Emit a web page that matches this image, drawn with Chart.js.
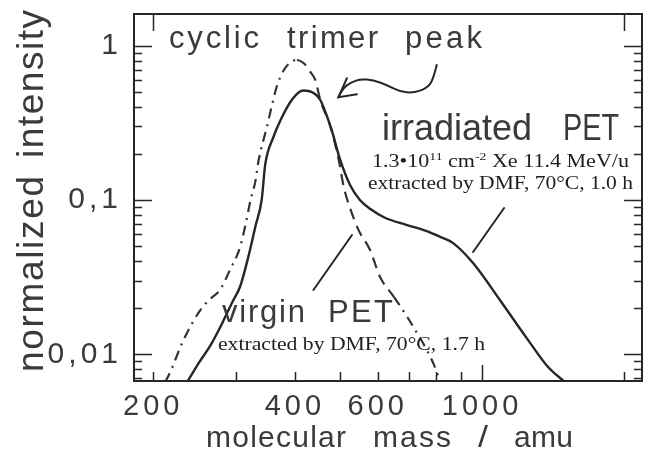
<!DOCTYPE html>
<html>
<head>
<meta charset="utf-8">
<script src="https://cdn.jsdelivr.net/npm/chart.js@4.4.1/dist/chart.umd.min.js"></script>
<style>
  html,body{margin:0;padding:0;background:#fff}
</style>
</head>
<body>
<canvas id="c" width="645" height="452"></canvas>
<script>
// irradiated PET (solid)
const irrMass = [236, 250, 265, 280, 295, 306, 318, 330, 340, 346, 360, 373, 395, 417, 440, 453, 479, 499, 524, 550, 580, 620, 690, 760, 815, 868, 957, 1092, 1252, 1380, 1500];
const irrInt  = [0.0066, 0.0088, 0.0115, 0.0158, 0.022, 0.0275, 0.042, 0.068, 0.1, 0.17, 0.255, 0.33, 0.45, 0.512, 0.49, 0.445, 0.284, 0.183, 0.125, 0.1, 0.087, 0.077, 0.069, 0.063, 0.0576, 0.0525, 0.039, 0.0224, 0.0124, 0.0083, 0.0066];
// virgin PET (dashed)
const virMass = [212, 217, 232, 252, 265, 277, 291, 306, 315, 322, 329.5, 335, 349, 357, 366, 379, 392, 404, 418, 431, 442, 453, 476, 496, 508, 524, 546, 578, 607, 650, 693, 714, 787, 815];
const virInt  = [0.0066, 0.0076, 0.0124, 0.0194, 0.023, 0.026, 0.0351, 0.0496, 0.072, 0.1, 0.131, 0.181, 0.299, 0.402, 0.542, 0.696, 0.78, 0.808, 0.77, 0.679, 0.6, 0.445, 0.299, 0.181, 0.122, 0.0887, 0.064, 0.0474, 0.0317, 0.0235, 0.0175, 0.0151, 0.0088, 0.0066];
const virPeak = 404;

const xTickVals = [200, 300, 400, 500, 600, 700, 800, 900, 1000, 2000];
const xTickLabels = {200: '200', 400: '400', 600: '600', 1000: '1000'};
const yTickVals = [0.007, 0.008, 0.009, 0.01, 0.02, 0.03, 0.04, 0.05, 0.06, 0.07, 0.08, 0.09,
                   0.1, 0.2, 0.3, 0.4, 0.5, 0.6, 0.7, 0.8, 0.9, 1];
const yTickLabels = {'1': '1', '0.1': '0,1', '0.01': '0,01'};
const yMajor = [0.01, 0.1, 1];
const topTicks = [200, 2000];

// annotation geometry, in data units (mass, intensity)
const arrowPath = [[801,0.75],[787,0.599],[763,0.53],[714,0.494],[670,0.503],[627,0.556],[587,0.599],[551,0.608],[525,0.576],[507,0.532],[495,0.463]];
const arrowHead = [[516,0.615],[495,0.463],[542,0.484]];
const leaderIrr = [[1114,0.0887],[957,0.046]];
const leaderVir = [[529,0.0593],[438,0.0261]];

const INK = '#262626';
const TXT = '#3a3a3a';
const SANS = '"Liberation Sans", Arial, sans-serif';
const SERIF = '"Liberation Serif", "Times New Roman", serif';

// sans word fitted to span [x, x+w]: letter spacing if wider, squeeze if narrower
function spaced(ctx, txt, x, y, w, size){
  ctx.font = size + 'px ' + SANS;
  ctx.letterSpacing = '0px';
  ctx.textAlign = 'left';
  const nat = ctx.measureText(txt).width;
  if (nat > w || txt.length < 2){
    ctx.save();
    ctx.translate(x, y);
    ctx.scale(w / nat, 1);
    ctx.fillText(txt, 0, 0);
    ctx.restore();
    return;
  }
  ctx.letterSpacing = ((w - nat) / (txt.length - 1)) + 'px';
  ctx.fillText(txt, x, y);
  ctx.letterSpacing = '0px';
}

// serif runs (with superscripts) squeezed to width w
function runs(ctx, parts, x, y, w, size){
  let tot = 0;
  parts.forEach(p => {
    ctx.font = (p.sup ? size * 0.62 : size) + 'px ' + SERIF;
    p.w = ctx.measureText(p.t).width;
    tot += p.w;
  });
  ctx.save();
  ctx.translate(x, y);
  ctx.scale(w / tot, 1);
  let cx = 0;
  ctx.textAlign = 'left';
  parts.forEach(p => {
    ctx.font = (p.sup ? size * 0.62 : size) + 'px ' + SERIF;
    ctx.fillText(p.t, cx, p.sup ? -size * 0.38 : 0);
    cx += p.w;
  });
  ctx.restore();
}

const framePlugin = {
  id: 'frame',
  // the scanned tick numbers are widely tracked
  beforeDraw(chart){ chart.ctx.letterSpacing = '4px'; },
  afterDraw(chart){
    const {ctx, chartArea: a, scales: {x, y}} = chart;
    const P = (m, v) => [x.getPixelForValue(m), y.getPixelForValue(v)];
    ctx.letterSpacing = '0px';
    ctx.save();
    ctx.strokeStyle = INK;
    ctx.lineWidth = 2;
    ctx.strokeRect(a.left, a.top, a.right - a.left, a.bottom - a.top);

    // inward tick marks
    ctx.lineWidth = 1.5;
    ctx.beginPath();
    yTickVals.forEach(v => {
      const py = Math.round(y.getPixelForValue(v)) + 0.5;
      const len = yMajor.includes(v) ? 18 : 8;
      ctx.moveTo(a.left, py); ctx.lineTo(a.left + len, py);
      ctx.moveTo(a.right, py); ctx.lineTo(a.right - len, py);
    });
    xTickVals.forEach(m => {
      const px = Math.round(x.getPixelForValue(m)) + 0.5;
      const len = m === 1000 ? 16 : 9;
      ctx.moveTo(px, a.bottom); ctx.lineTo(px, a.bottom - len);
    });
    topTicks.forEach(m => {
      const px = Math.round(x.getPixelForValue(m)) + 0.5;
      ctx.moveTo(px, a.top); ctx.lineTo(px, a.top + 17);
    });
    ctx.stroke();

    // leader lines and the curly arrow
    ctx.lineWidth = 2;
    ctx.lineCap = 'round';
    [leaderIrr, leaderVir].forEach(l => {
      const p0 = P(...l[0]), p1 = P(...l[1]);
      ctx.beginPath(); ctx.moveTo(...p0); ctx.lineTo(...p1); ctx.stroke();
    });
    const ap = arrowPath.map(p => P(...p));
    ctx.beginPath();
    ctx.moveTo(...ap[0]);
    for (let i = 1; i < ap.length - 1; i++){
      const mx = (ap[i][0] + ap[i+1][0]) / 2, my = (ap[i][1] + ap[i+1][1]) / 2;
      ctx.quadraticCurveTo(ap[i][0], ap[i][1], mx, my);
    }
    ctx.lineTo(...ap[ap.length - 1]);
    ctx.stroke();
    ctx.beginPath();
    arrowHead.map(p => P(...p)).forEach((p, i) => i ? ctx.lineTo(...p) : ctx.moveTo(...p));
    ctx.stroke();

    // texts
    ctx.fillStyle = TXT;
    ctx.textBaseline = 'alphabetic';
    spaced(ctx, 'cyclic', 169, 48, 90, 31);
    spaced(ctx, 'trimer', 287, 48, 91, 31);
    spaced(ctx, 'peak', 405, 48, 77, 31);
    spaced(ctx, 'irradiated', 382, 140, 150, 37);
    spaced(ctx, 'PET', 563, 140, 56, 37);
    spaced(ctx, 'virgin', 222, 322, 83, 31);
    spaced(ctx, 'PET', 328, 322, 65, 31);
    ctx.fillStyle = '#1e1e1e';
    runs(ctx, [{t:'1.3\u202210'},{t:'11',sup:true},{t:' cm'},{t:'-2',sup:true},{t:' Xe 11.4 MeV/u'}], 372, 167, 257, 18);
    runs(ctx, [{t:'extracted by DMF, 70\u00b0C, 1.0 h'}], 368, 189, 265, 18);
    runs(ctx, [{t:'extracted by DMF, 70\u00b0C, 1.7 h'}], 218, 350, 267, 18);

    // axis titles
    ctx.fillStyle = TXT;
    spaced(ctx, 'molecular', 206, 447, 140, 30);
    spaced(ctx, 'mass', 373, 447, 78, 30);
    spaced(ctx, '/', 478, 447, 10, 30);
    spaced(ctx, 'amu', 514, 447, 59, 30);
    ctx.save();
    ctx.translate(43, 372);
    ctx.rotate(-Math.PI / 2);
    spaced(ctx, 'normalized', 0, 0, 196, 37);
    spaced(ctx, 'intensity', 214, 0, 148, 37);
    ctx.restore();
    ctx.restore();
  }
};

new Chart(document.getElementById('c'), {
  type: 'line',
  data: {
    datasets: [
      {
        label: 'irradiated PET',
        data: irrMass.map((m, i) => ({x: m, y: irrInt[i]})),
        borderColor: INK, borderWidth: 2.4, pointRadius: 0,
        cubicInterpolationMode: 'monotone', fill: false
      },
      {
        label: 'virgin PET',
        data: virMass.map((m, i) => ({x: m, y: virInt[i]})),
        borderColor: '#333', borderWidth: 2.2, pointRadius: 0,
        cubicInterpolationMode: 'monotone', fill: false,
        borderDash: [10, 6, 2, 6],
        segment: {
          borderDash: c => (c.p0.parsed.x >= virPeak && c.p0.parsed.x < 640) ? [11, 7] : [10, 6, 2, 6]
        }
      }
    ]
  },
  options: {
    responsive: false,
    animation: false,
    devicePixelRatio: 1,
    layout: {padding: {top: 14, right: 3, left: 0, bottom: 0}},
    plugins: {legend: {display: false}, tooltip: {enabled: false}},
    scales: {
      x: {
        type: 'logarithmic', min: 182, max: 2188,
        grid: {display: false, drawTicks: false}, border: {display: false},
        afterBuildTicks: s => { s.ticks = xTickVals.map(v => ({value: v})); },
        afterFit: s => { s.height = 71; s.paddingLeft = 0; s.paddingRight = 0; },
        ticks: {
          autoSkip: false, maxRotation: 0, padding: 9, color: TXT,
          font: {family: SANS, size: 29},
          callback: v => xTickLabels[v] || ''
        }
      },
      y: {
        type: 'logarithmic', min: 0.00671, max: 1.605,
        grid: {display: false, drawTicks: false}, border: {display: false},
        afterBuildTicks: s => { s.ticks = yTickVals.map(v => ({value: v})); },
        afterFit: s => { s.width = 134; s.paddingTop = 0; s.paddingBottom = 0; },
        ticks: {
          autoSkip: false, padding: 12, color: TXT,
          font: {family: SANS, size: 30},
          callback: v => yTickLabels[String(v)] || ''
        }
      }
    }
  },
  plugins: [framePlugin]
});
</script>
</body>
</html>
